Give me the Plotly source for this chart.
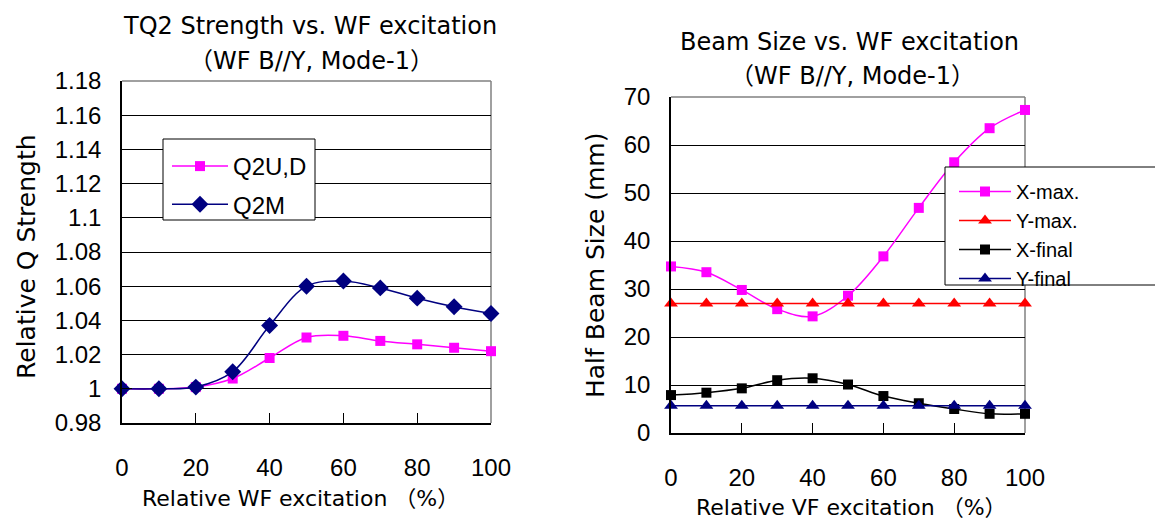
import plotly.graph_objects as go

# ---------------- data ----------------
wf_excitation = [0, 10, 20, 30, 40, 50, 60, 70, 80, 90, 100]
q2ud = [1.000, 1.000, 1.001, 1.006, 1.018, 1.030, 1.031, 1.028, 1.026, 1.024, 1.022]
q2m = [1.000, 1.000, 1.001, 1.010, 1.037, 1.060, 1.063, 1.059, 1.053, 1.048, 1.044]

vf_excitation = [0, 10, 20, 30, 40, 50, 60, 70, 80, 90, 100]
x_max = [34.7, 33.5, 29.8, 25.8, 24.3, 28.6, 36.8, 46.9, 56.4, 63.5, 67.3]
y_max = [27.0, 27.0, 27.0, 27.0, 27.0, 27.0, 27.0, 27.0, 27.0, 27.0, 27.0]
x_final = [7.9, 8.4, 9.3, 11.0, 11.4, 10.1, 7.7, 6.2, 5.0, 4.0, 4.0]
y_final = [5.7, 5.7, 5.7, 5.7, 5.7, 5.7, 5.7, 5.7, 5.7, 5.7, 5.7]

left_yticks = [0.98, 1.0, 1.02, 1.04, 1.06, 1.08, 1.1, 1.12, 1.14, 1.16, 1.18]
left_yticktext = ["0.98", "1", "1.02", "1.04", "1.06", "1.08", "1.1", "1.12", "1.14", "1.16", "1.18"]
right_yticks = [0, 10, 20, 30, 40, 50, 60, 70]
x_ticks = [0, 20, 40, 60, 80, 100]

FONT = "Liberation Sans, Arial, Noto Sans CJK JP, sans-serif"
TFONT = "DejaVu Sans, Noto Sans CJK JP, sans-serif"
W, H = 1155, 521


def px(x):
    return x / W


def py(y):
    return 1 - y / H


fig = go.Figure()

SPL = dict(shape="spline", smoothing=1.0)

# left chart traces
fig.add_trace(go.Scatter(x=wf_excitation, y=q2ud, name="Q2U,D", mode="lines+markers",
                         line=dict(color="#FF00FF", width=1.5, **SPL),
                         marker=dict(symbol="square", size=10, color="#FF00FF"),
                         xaxis="x", yaxis="y", legend="legend", legendgroup="a", cliponaxis=False))
fig.add_trace(go.Scatter(x=wf_excitation, y=q2m, name="Q2M", mode="lines+markers",
                         line=dict(color="#000080", width=1.5, **SPL),
                         marker=dict(symbol="diamond", size=13, color="#000080"),
                         xaxis="x", yaxis="y", legend="legend", legendgroup="b", cliponaxis=False))

# right chart traces
fig.add_trace(go.Scatter(x=vf_excitation, y=x_max, name="X-max.", mode="lines+markers",
                         line=dict(color="#FF00FF", width=1.5, **SPL),
                         marker=dict(symbol="square", size=10, color="#FF00FF"),
                         xaxis="x2", yaxis="y2", legend="legend2", legendgroup="c", cliponaxis=False))
fig.add_trace(go.Scatter(x=vf_excitation, y=y_max, name="Y-max.", mode="lines+markers",
                         line=dict(color="#FF0000", width=1.5),
                         marker=dict(symbol="triangle-up", size=12, color="#FF0000"),
                         xaxis="x2", yaxis="y2", legend="legend2", legendgroup="d", cliponaxis=False))
fig.add_trace(go.Scatter(x=vf_excitation, y=x_final, name="X-final", mode="lines+markers",
                         line=dict(color="#000000", width=1.5, **SPL),
                         marker=dict(symbol="square", size=10, color="#000000"),
                         xaxis="x2", yaxis="y2", legend="legend2", legendgroup="e", cliponaxis=False))
fig.add_trace(go.Scatter(x=vf_excitation, y=y_final, name="Y-final", mode="lines+markers",
                         line=dict(color="#000080", width=1.5),
                         marker=dict(symbol="triangle-up", size=12, color="#000080"),
                         xaxis="x2", yaxis="y2", legend="legend2", legendgroup="f", cliponaxis=False))

tickfont = dict(family=FONT, size=24, color="black")


def xaxis_cfg(dom, anchor):
    return dict(domain=dom, anchor=anchor, range=[0, 100], tickvals=x_ticks,
                ticks="inside", ticklen=10, tickcolor="black", tickwidth=1,
                showline=True, linecolor="black", linewidth=1.5, showgrid=False,
                zeroline=False, tickfont=tickfont, ticklabelstandoff=22, automargin=False)


def yaxis_cfg(dom, anchor, rng, tv, tt=None):
    d = dict(domain=dom, anchor=anchor, range=rng, tickvals=tv,
             ticks="inside", ticklen=10, tickcolor="black", tickwidth=1,
             showline=True, linecolor="black", linewidth=1.5, showgrid=True,
             gridcolor="black", gridwidth=1, zeroline=False, tickfont=tickfont,
             ticklabelstandoff=14, automargin=False)
    if tt is not None:
        d["ticktext"] = tt
    return d


L_x0, L_x1, L_y0, L_y1 = 122, 491, 81, 423
R_x0, R_x1, R_y0, R_y1 = 671, 1025, 97, 433

fig.update_layout(
    width=W, height=H, autosize=False,
    margin=dict(l=0, r=0, t=0, b=0),
    paper_bgcolor="white", plot_bgcolor="white",
    font=dict(family=FONT, color="black"),
    xaxis=xaxis_cfg([px(L_x0), px(L_x1)], "y"),
    yaxis=yaxis_cfg([py(L_y1), py(L_y0)], "x", [0.98, 1.18], left_yticks, left_yticktext),
    xaxis2=xaxis_cfg([px(R_x0), px(R_x1)], "y2"),
    yaxis2=yaxis_cfg([py(R_y1), py(R_y0)], "x2", [0, 70], right_yticks),
    legend=dict(x=px(167), y=py(144), xanchor="left", yanchor="top",
                borderwidth=0, bgcolor="rgba(0,0,0,0)", itemwidth=56,
                font=dict(family=FONT, size=24, color="black"),
                tracegroupgap=4, traceorder="grouped"),
    legend2=dict(x=px(954), y=py(172), xanchor="left", yanchor="top",
                 borderwidth=0, bgcolor="rgba(0,0,0,0)", itemwidth=52,
                 font=dict(family=FONT, size=20, color="black"),
                 tracegroupgap=0, traceorder="grouped"),
    showlegend=True,
)

# gray frame (top/right edges)
for (x0, x1, y0, y1) in [(L_x0, L_x1, L_y0, L_y1), (R_x0, R_x1, R_y0, R_y1)]:
    fig.add_shape(type="line", xref="paper", yref="paper", x0=px(x0), x1=px(x1), y0=py(y0), y1=py(y0),
                  line=dict(color="#808080", width=1.5), layer="between")
    fig.add_shape(type="line", xref="paper", yref="paper", x0=px(x1), x1=px(x1), y0=py(y0), y1=py(y1),
                  line=dict(color="#808080", width=1.5), layer="between")

# legend boxes
fig.add_shape(type="rect", xref="paper", yref="paper", x0=px(163), x1=px(315), y0=py(139), y1=py(220),
              line=dict(color="black", width=1), fillcolor="white", layer="above")
fig.add_shape(type="rect", xref="paper", yref="paper", x0=px(945), x1=px(1170), y0=py(167), y1=py(285),
              line=dict(color="black", width=1), fillcolor="white", layer="above")


def ann(text, x, y, size, angle=0, fam=TFONT):
    fig.add_annotation(text=text, xref="paper", yref="paper", x=px(x), y=py(y),
                       xanchor="center", yanchor="middle", showarrow=False, textangle=angle,
                       font=dict(family=fam, size=size, color="black"))


# titles
ann("TQ2 Strength vs. WF excitation", 310, 26, 24)
ann("（WF B//Y, Mode-1）", 311, 61, 24)
ann("Beam Size vs. WF excitation", 850, 42, 24)
ann("（WF B//Y, Mode-1）", 852, 76, 24)

# axis titles
ann("Relative WF excitation （%）", 300, 498, 22)
ann("Relative Q Strength", 27, 257, 25, -90)
ann("Relative VF excitation （%）", 851, 507, 22)
ann("Half Beam Size (mm)", 595, 266, 25, -90)

fig.write_html(
    "out.html",
    config={"displayModeBar": False},
    post_script="document.body.style.margin='0';document.body.style.overflow='hidden';",
)
